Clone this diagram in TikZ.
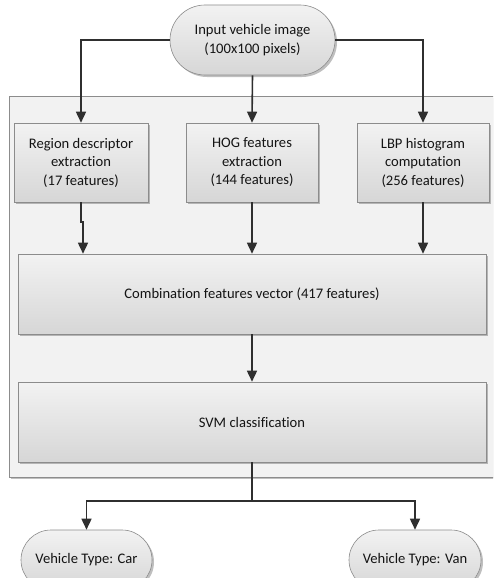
\documentclass[tikz,border=0pt]{standalone}
\usepackage{fontspec}
\setmainfont{Carlito}[Ligatures=NoCommon]
\usetikzlibrary{arrows.meta,shadows,calc}
\definecolor{linec}{HTML}{2F2F2F}
\definecolor{boxedge}{HTML}{8C8C8C}
\tikzset{
  boxbase/.style={draw=boxedge, line width=0.6pt, top color=white!95!black, bottom color=white!84!black,
    align=center, text=black!92, font=\fontsize{14.6}{18.5}\selectfont, inner sep=0pt,
    drop shadow={shadow xshift=2pt, shadow yshift=-2pt, opacity=0.25, fill=black}},
  procbox/.style={boxbase, rectangle},
  termbox/.style={boxbase, rectangle, rounded corners=#1},
  arr/.style={draw=linec, line width=1.6pt, -{Triangle[length=11pt,width=10pt]}},
  plain/.style={draw=linec, line width=1.6pt},
}
\begin{document}
\begin{tikzpicture}[x=1pt,y=-1pt]
\clip (0,0) rectangle (493,578);
\fill[white] (0,0) rectangle (493,578);
% container
\node[draw=boxedge, fill=white!95!black, line width=0.6pt, minimum width=495pt, minimum height=381pt, inner sep=0pt,
  drop shadow={shadow xshift=2pt, shadow yshift=-2pt, opacity=0.25, fill=black}] (cont) at (256.5,286.5) {};
% nodes
\node[termbox=35pt, minimum width=165pt, minimum height=70pt] (inp) at (252.5,40) {Input vehicle image\\(100x100 pixels)};
\node[procbox, minimum width=134pt, minimum height=79pt] (b1) at (81,162.5) {Region descriptor\\extraction\\(17 features)};
\node[procbox, minimum width=132pt, minimum height=79pt] (b2) at (252,162.5) {HOG features\\extraction\\(144 features)};
\node[procbox, minimum width=132pt, minimum height=79pt] (b3) at (423,162.5) {LBP histogram\\computation\\(256 features)};
\node[procbox, minimum width=468pt, minimum height=80pt] (comb) at (252,294) {Combination features vector (417 features)};
\node[procbox, minimum width=468pt, minimum height=80pt] (svm) at (252,422) {SVM classification};
\node[termbox=30pt, minimum width=131pt, minimum height=60pt] (car) at (86.5,560) {Vehicle Type: Car};
\node[termbox=30pt, minimum width=132pt, minimum height=60pt] (van) at (415,560) {Vehicle Type: Van};
% connectors
\draw[arr] (inp.west) -| (b1.north);
\draw[arr] (inp.south) -- (b2.north);
\draw[arr] (inp.east) -| (b3.north);
\coordinate (j) at (83,222);
\draw[arr] (b1.south) |- (j) -- (j |- comb.north);
\draw[arr] (b2.south) -- (b2.south |- comb.north);
\draw[arr] (b3.south) -- (b3.south |- comb.north);
\draw[arr] (comb.south) -- (svm.north);
\coordinate (split) at (252,501);
\draw[plain] (svm.south) -- (split);
\draw[arr] (split) -| (car.north);
\draw[arr] (split) -| (van.north);
\end{tikzpicture}
\end{document}
